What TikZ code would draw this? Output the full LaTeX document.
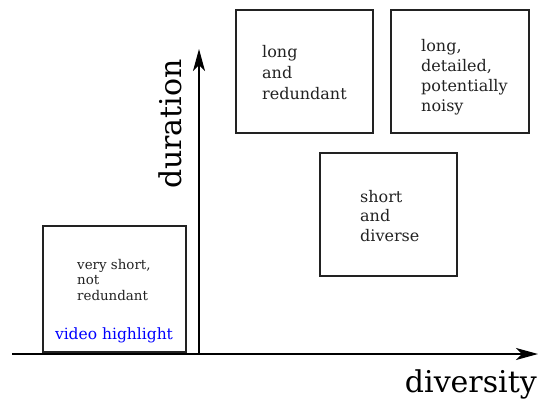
\documentclass[tikz,border=0pt]{standalone}
\usepackage{fontspec}
\setmainfont{DejaVu Serif}
\usetikzlibrary{arrows.meta}
\definecolor{ink}{HTML}{222222}
\begin{document}
\begin{tikzpicture}[x=1pt,y=-1pt,
  region/.style={draw=ink,line width=1.2pt},
  axis/.style={draw=black,line width=1.4pt,-{Stealth[length=22pt,width=12pt,inset=6pt]}},
  note/.style={anchor=north west,align=left,text=ink,inner sep=0pt},
  axislabel/.style={font=\fontsize{30}{34}\selectfont,text=black,inner sep=0pt}]
\useasboundingbox (0,0) rectangle (540,401);
% regions of the diversity/duration plane
\draw[region] (43,226) rectangle (186,352);
\draw[region] (236,10) rectangle (373,133);
\draw[region] (391,10) rectangle (529,133);
\draw[region] (320,153) rectangle (457,276);
% axes
\coordinate (o) at (199,354);
\coordinate (xl) at (12,354);
\coordinate (xe) at (538,354);
\coordinate (ye) at (199,49);
\draw[line width=1.4pt] (xl) -- (o);
\draw[axis] (o) -- (xe);
\draw[axis] (o) -- (ye);
\node[axislabel,anchor=south east] (xlab) at (537,399) {diversity};
\node[axislabel,rotate=90] (ylab) at (170,124) {duration};
% region descriptions
\node[note,font=\fontsize{13.4}{15.5}\selectfont] (vs) at (77,259) {very short,\\not\\redundant};
\node[note,font=\fontsize{15.5}{17}\selectfont,text=blue,anchor=center] (vh) at (114,335) {video highlight};
\node[note,font=\fontsize{16}{21}\selectfont] (lr) at (262,45) {long\\and\\redundant};
\node[note,font=\fontsize{16}{20}\selectfont] (ld) at (421,39) {long,\\detailed,\\potentially\\noisy};
\node[note,font=\fontsize{16}{19.5}\selectfont] (sd) at (360,190) {short\\and\\diverse};
\end{tikzpicture}
\end{document}
